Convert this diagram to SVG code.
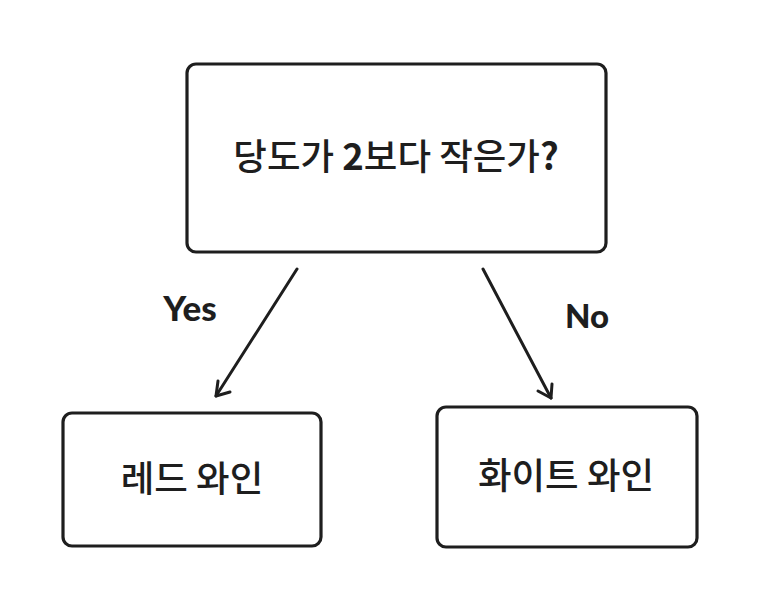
<svg xmlns="http://www.w3.org/2000/svg" width="760" height="610" viewBox="0 0 760 610">
<style>
.box{fill:#ffffff;stroke:#1e1e1e;stroke-width:3.2;stroke-linejoin:round}
.kt{font-family:"Noto Sans CJK KR","Noto Sans",sans-serif;font-weight:500;fill:#1e1e1e;text-anchor:middle}
.lbl{font-family:Lato,"DejaVu Sans",sans-serif;font-weight:900;fill:#1e1e1e;text-anchor:middle}
.edge{fill:none;stroke:#1e1e1e;stroke-width:3;stroke-linecap:round;stroke-linejoin:round}
</style>
<rect width="760" height="610" fill="#ffffff"/>
<g id="node-question">
<rect class="box" x="187" y="64" width="419" height="188" rx="9"/>
<text class="kt" x="396" y="170" font-size="36.5">당도가 <tspan font-weight="700">2</tspan>보다 작은가<tspan font-weight="700">?</tspan></text>
</g>
<g id="node-red">
<rect class="box" x="63" y="413" width="258" height="133" rx="9"/>
<text class="kt" x="192" y="492" font-size="36.5">레드 와인</text>
</g>
<g id="node-white">
<rect class="box" x="437" y="407" width="260" height="140" rx="9"/>
<text class="kt" x="566" y="489" font-size="36.5">화이트 와인</text>
</g>
<g id="connectors">
<path class="edge" d="M297 269 L216 396"/>
<path class="edge" d="M218 381 L216 396 L230 392"/>
<path class="edge" d="M483 269 L551 398"/>
<path class="edge" d="M538 391 L551 398 L552 384"/>
<text class="lbl" x="190" y="321" font-size="35">Yes</text>
<text class="lbl" x="587" y="328" font-size="33">No</text>
</g>
</svg>
